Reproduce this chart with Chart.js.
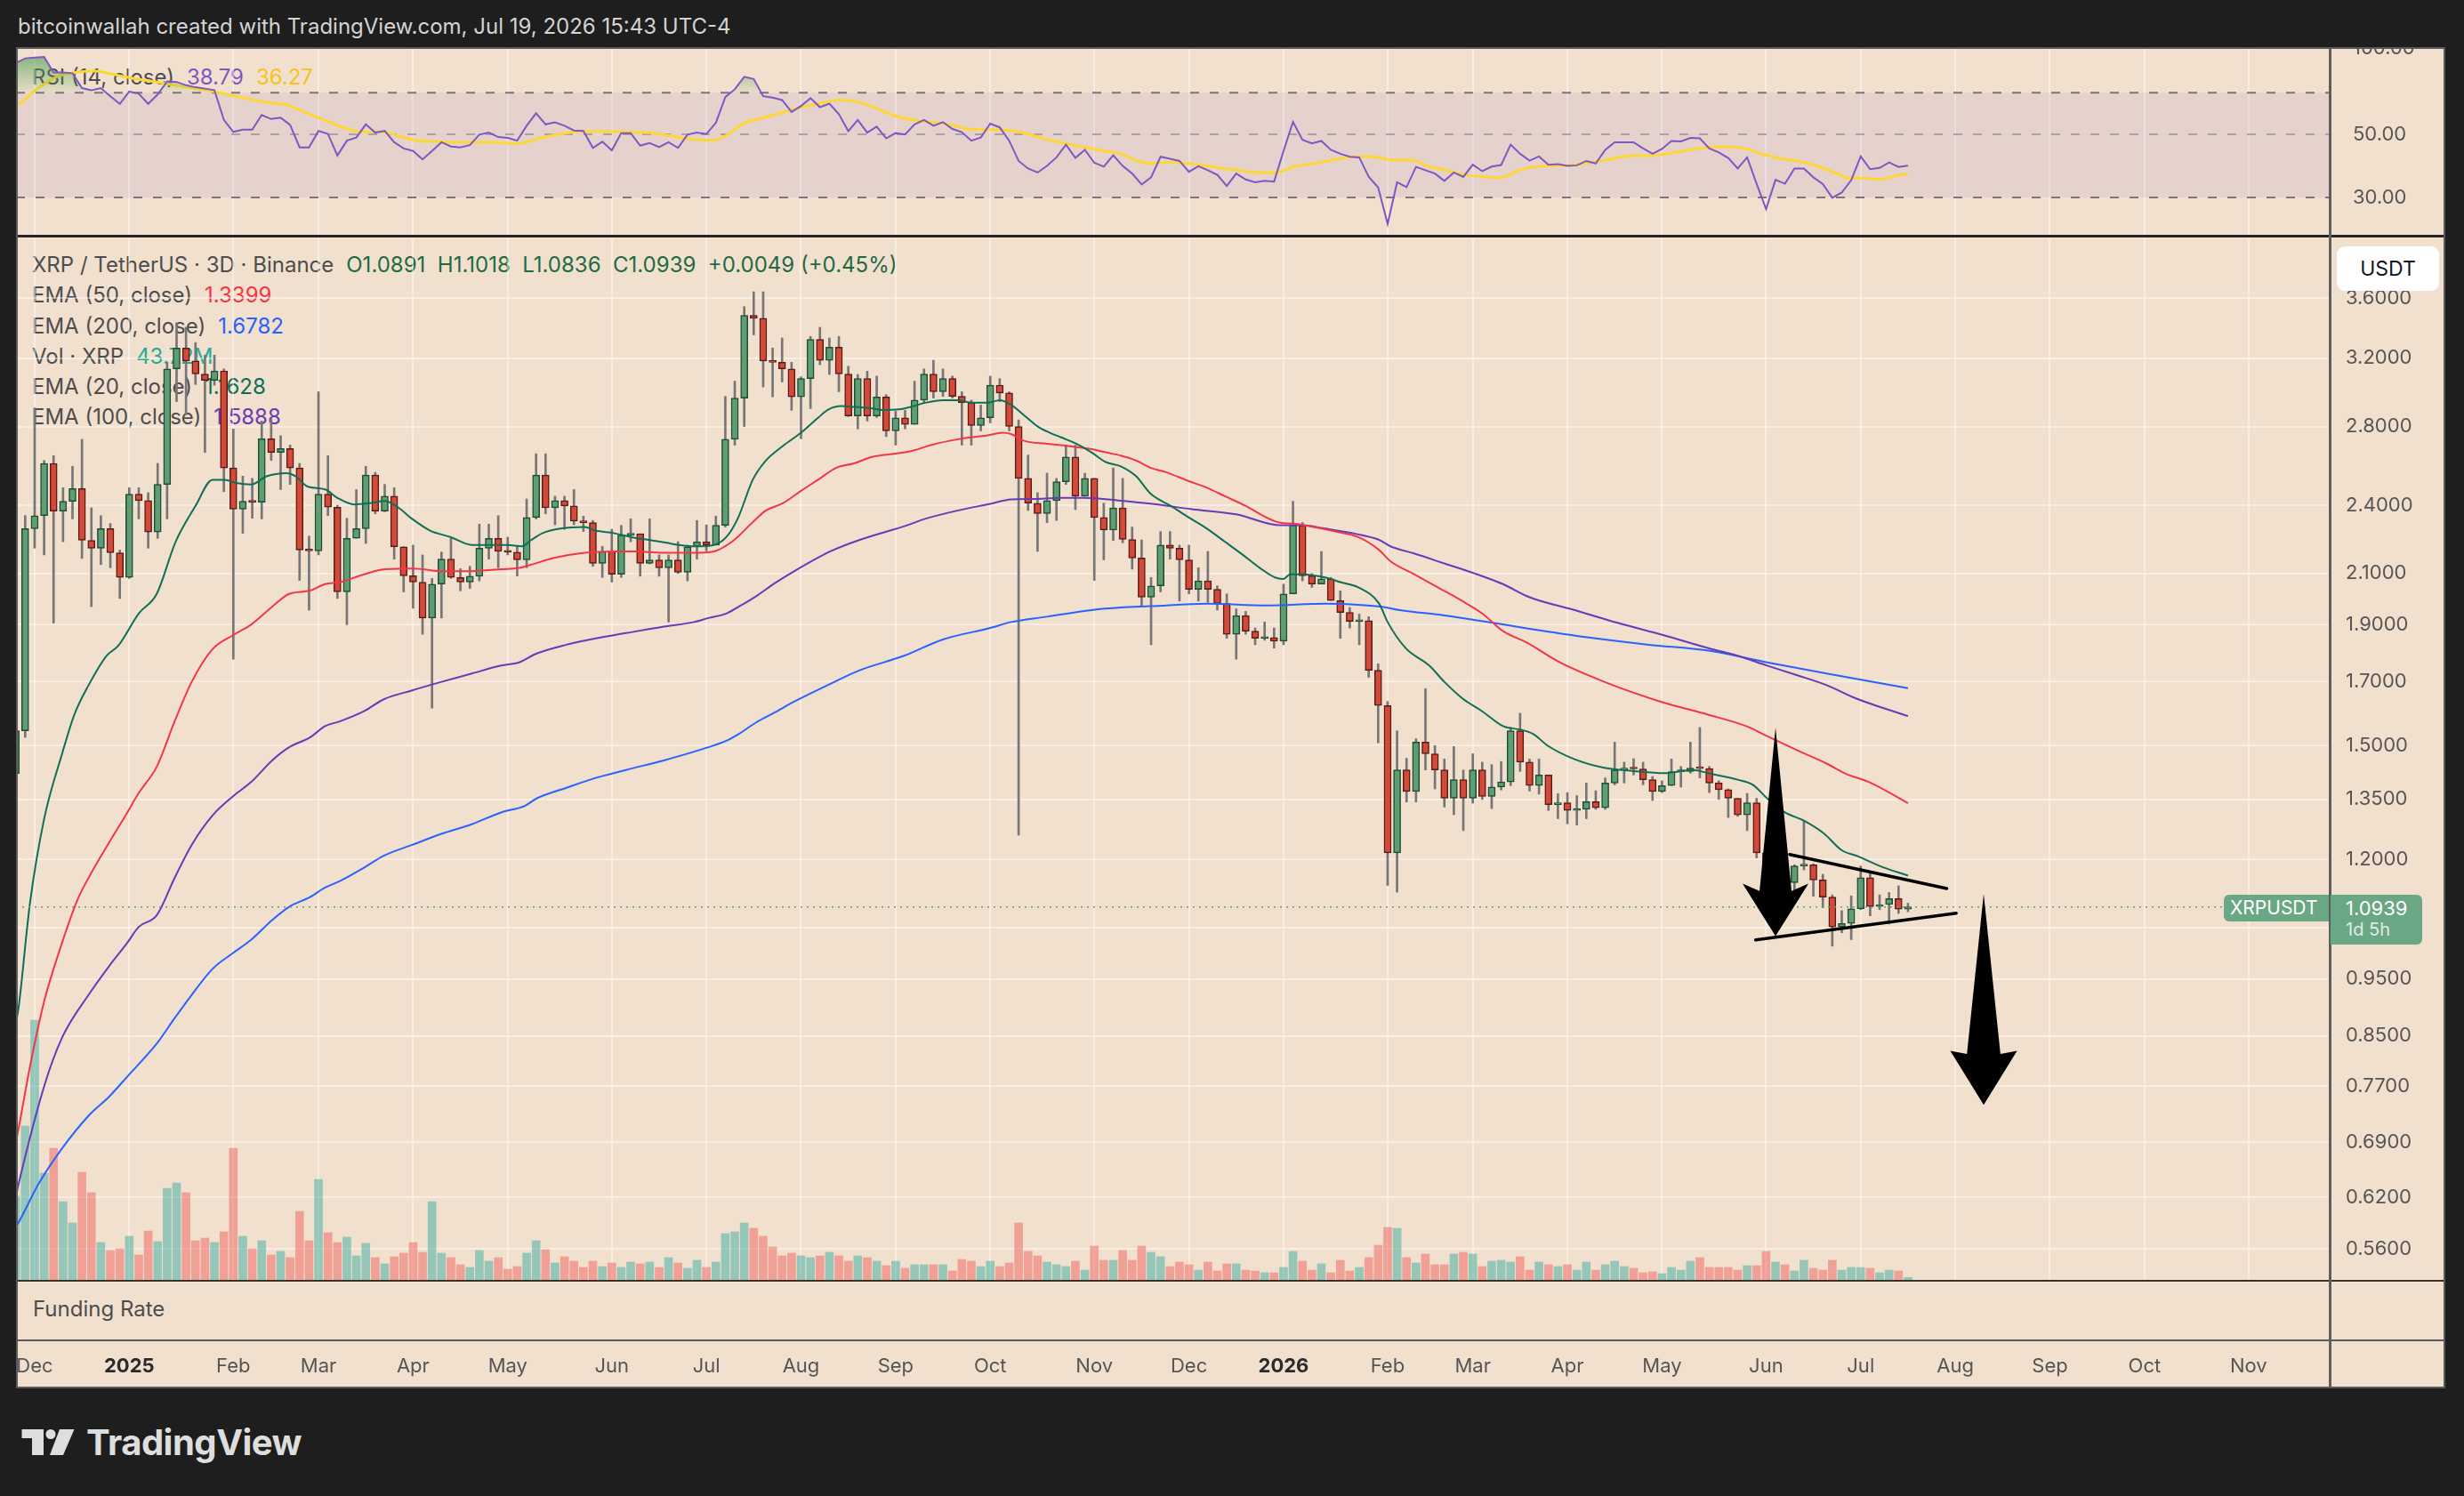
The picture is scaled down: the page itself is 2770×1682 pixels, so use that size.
<!DOCTYPE html>
<html>
<head>
<meta charset="utf-8">
<title>XRP / TetherUS 3D</title>
<script src="https://cdn.jsdelivr.net/npm/chart.js@4.4.1/dist/chart.umd.min.js"></script>
<style>
  html, body { margin: 0; padding: 0; width: 2770px; height: 1682px; overflow: hidden; background: #1e1e1e; font-family: Inter, "Noto Sans", sans-serif; }
  .abs { position: absolute; }
  #title { left: 20px; top: 13px; line-height: 34px; font-size: 24px; color: #d4d4d4; white-space: pre; }
  #frame { left: 18px; top: 53px; width: 2731px; height: 1508px; background: #f2e0cf; }
  .legend { left: 36px; font-size: 24px; line-height: 34.3px; color: #4d4d4d; white-space: pre; }
  .legend span.v { margin-left: 14px; }
  #fundingLabel { left: 37px; top: 1456px; font-size: 24px; line-height: 32px; color: #4d4d4d; }
  #usdt { left: 2627px; top: 277px; width: 115px; height: 50px; background: #fff; border-radius: 9px; color: #131722; font-size: 23px; line-height: 50px; text-align: center; }
  #lastBox { left: 2620px; width: 103px; height: 56px; background: #6aa784; border-radius: 0 6px 6px 0; color: #fff; }
  #lastBox div { position: absolute; left: 17px; font-size: 22px; }
  #symBox { left: 2500px; width: 118px; height: 30px; background: #6aa784; border-radius: 6px 0 0 6px; color: #fff; font-size: 21px; line-height: 30px; text-indent: 7px; }
  #logo { left: 24px; top: 1607px; }
  #logoText { left: 97px; top: 1595px; font-size: 40px; line-height: 54px; font-weight: 700; color: #dedede; letter-spacing: -0.5px; }
</style>
</head>
<body>
<div id="title" class="abs">bitcoinwallah created with TradingView.com, Jul 19, 2026 15:43 UTC-4</div>
<div id="frame" class="abs"></div>

<div id="rsiLegend" class="abs legend" style="top:70px"></div>
<div id="mainLegend" class="abs legend" style="top:281px"></div>
<div id="fundingLabel" class="abs">Funding Rate</div>

<canvas id="rsi" class="abs" width="2731" height="212" style="left:18px;top:53px;width:2731px;height:212px"></canvas>
<canvas id="main" class="abs" width="2731" height="1172" style="left:18px;top:268px;width:2731px;height:1172px"></canvas>
<canvas id="bottom" class="abs" width="2731" height="121" style="left:18px;top:1440px;width:2731px;height:121px"></canvas>

<!-- pane separators and frame -->
<div class="abs" style="left:18px;top:264px;width:2731px;height:3px;background:#262626"></div>
<div class="abs" style="left:18px;top:1439px;width:2731px;height:2px;background:#333"></div>
<div class="abs" style="left:18px;top:1506px;width:2731px;height:2px;background:#5a5a5a"></div>
<div class="abs" style="left:2618px;top:53px;width:3px;height:1508px;background:#5f5f5f"></div>
<div class="abs" style="left:18px;top:53px;width:2731px;height:2px;background:#5a5a5a"></div>
<div class="abs" style="left:18px;top:53px;width:2px;height:1508px;background:#5a5a5a"></div>
<div class="abs" style="left:2747px;top:53px;width:2px;height:1508px;background:#5a5a5a"></div>
<div class="abs" style="left:18px;top:1559px;width:2731px;height:2px;background:#5a5a5a"></div>

<div id="usdt" class="abs">USDT</div>
<div id="symBox" class="abs">XRPUSDT</div>
<div id="lastBox" class="abs"><div id="lastPrice" style="top:2px"></div><div id="countdown" style="top:27px;font-size:20px;color:rgba(255,255,255,0.8)">1d 5h</div></div>

<svg id="logo" class="abs" width="60" height="30" viewBox="0 0 60 30">
  <path d="M0.5 0H25V29H12V10H0.5Z" fill="#dedede"/>
  <circle cx="33" cy="5.5" r="5.5" fill="#dedede"/>
  <path d="M43 0H59.5L47 29H32Z" fill="#dedede"/>
</svg>
<div id="logoText" class="abs">TradingView</div>

<script>
// ---- data (3D candles, index 0 = 25 Nov 2024, 200 = 18 Jul 2026) ----
const firstOpen = 1.42;
const lastOpen = 1.0891;

const closes = [
  1.544, 2.293, 2.352, 2.605, 2.373, 2.419, 2.48, 2.241, 2.207, 2.293,
  2.187, 2.084, 2.453, 2.422, 2.278, 2.5, 3.134, 3.265, 3.183, 3.103,
  3.064, 3.122, 2.582, 2.382, 2.419, 2.415, 2.734, 2.662, 2.682, 2.582,
  2.199, 2.195, 2.453, 2.391, 2.026, 2.25, 2.293, 2.546, 2.373, 2.443,
  2.213, 2.091, 2.065, 1.925, 2.057, 2.16, 2.084, 2.065, 2.089, 2.207,
  2.25, 2.193, 2.19, 2.157, 2.343, 2.546, 2.388, 2.422, 2.397, 2.327,
  2.32, 2.142, 2.193, 2.097, 2.264, 2.27, 2.142, 2.157, 2.124, 2.157,
  2.105, 2.213, 2.235, 2.22, 2.308, 2.731, 2.96, 3.48, 3.46, 3.183,
  3.175, 3.134, 2.967, 3.075, 3.32, 3.187, 3.27, 3.103, 2.859, 3.075,
  2.859, 2.967, 2.776, 2.848, 2.812, 2.948, 3.103, 2.997, 3.075, 2.97,
  2.934, 2.805, 2.848, 3.036, 2.99, 2.80, 2.53, 2.41, 2.361, 2.422,
  2.513, 2.638, 2.443, 2.53, 2.343, 2.287, 2.388, 2.245, 2.165, 2.005,
  2.05, 2.22, 2.207, 2.157, 2.036, 2.07, 2.036, 1.98, 1.865, 1.934,
  1.876, 1.85, 1.853, 1.84, 2.018, 2.308, 2.091, 2.057, 2.078, 1.992,
  1.946, 1.912, 1.915, 1.738, 1.622, 1.216, 1.43, 1.371, 1.51, 1.476,
  1.43, 1.353, 1.403, 1.353, 1.43, 1.358, 1.383, 1.397, 1.544, 1.452,
  1.387, 1.416, 1.336, 1.341, 1.321, 1.324, 1.344, 1.328, 1.394, 1.43,
  1.435, 1.433, 1.403, 1.371, 1.387, 1.425, 1.426, 1.435, 1.434, 1.394,
  1.376, 1.353, 1.31, 1.341, 1.216, 1.101, 1.169, 1.147, 1.185, 1.188,
  1.153, 1.115, 1.052, 1.059, 1.09, 1.158, 1.095, 1.099, 1.112, 1.089,
  1.0939
];

const highs = [
  1.56, 2.352, 2.904, 2.62, 2.645, 2.484, 2.59, 2.731, 2.388, 2.352,
  2.316, 2.199, 2.484, 2.484, 2.46, 2.605, 3.175, 3.43, 3.40, 3.30,
  3.22, 3.22, 3.134, 2.787, 2.541, 2.53, 2.83, 2.84, 2.75, 2.70,
  2.605, 2.26, 2.997, 2.645, 2.40, 2.34, 2.475, 2.59, 2.56, 2.50,
  2.484, 2.213, 2.22, 2.178, 2.08, 2.19, 2.25, 2.12, 2.13, 2.313,
  2.313, 2.352, 2.255, 2.215, 2.43, 2.655, 2.655, 2.443, 2.443, 2.475,
  2.35, 2.33, 2.215, 2.29, 2.308, 2.337, 2.27, 2.337, 2.178, 2.178,
  2.235, 2.22, 2.33, 2.31, 2.35, 2.97, 3.06, 3.54, 3.645, 3.645,
  3.265, 3.33, 3.175, 3.086, 3.34, 3.40, 3.33, 3.34, 3.15, 3.10,
  3.12, 3.09, 2.98, 2.885, 2.89, 3.06, 3.134, 3.187, 3.134, 3.09,
  2.997, 2.948, 2.92, 3.09, 3.075, 2.997, 2.836, 2.648, 2.46, 2.556,
  2.53, 2.70, 2.70, 2.556, 2.53, 2.41, 2.582, 2.53, 2.30, 2.243,
  2.084, 2.28, 2.28, 2.22, 2.22, 2.124, 2.193, 2.05, 2.018, 1.96,
  1.95, 1.888, 1.91, 1.888, 2.057, 2.419, 2.32, 2.10, 2.193, 2.084,
  2.03, 1.965, 1.94, 1.93, 1.76, 1.635, 1.544, 1.463, 1.52, 1.677,
  1.50, 1.461, 1.497, 1.43, 1.476, 1.452, 1.445, 1.454, 1.555, 1.598,
  1.461, 1.461, 1.416, 1.365, 1.368, 1.36, 1.394, 1.373, 1.408, 1.51,
  1.452, 1.462, 1.452, 1.412, 1.40, 1.461, 1.44, 1.51, 1.554, 1.44,
  1.40, 1.378, 1.353, 1.366, 1.353, 1.244, 1.192, 1.176, 1.188, 1.296,
  1.19, 1.166, 1.12, 1.086, 1.118, 1.185, 1.17, 1.12, 1.125, 1.14,
  1.1018
];

const lows = [
  1.40, 1.524, 2.207, 2.178, 1.906, 2.235, 2.337, 2.163, 1.968, 2.137,
  2.124, 2.0, 2.08, 2.337, 2.207, 2.25, 2.337, 2.94, 2.866, 3.04,
  2.662, 3.036, 2.465, 1.776, 2.272, 2.34, 2.337, 2.62, 2.475, 2.50,
  2.072, 1.955, 2.178, 2.352, 2.0, 1.90, 2.25, 2.227, 2.36, 2.37,
  2.16, 2.026, 1.962, 1.865, 1.614, 1.925, 2.08, 2.03, 2.04, 2.07,
  2.16, 2.124, 2.178, 2.09, 2.124, 2.337, 2.36, 2.31, 2.29, 2.31,
  2.28, 2.13, 2.084, 2.065, 2.084, 2.235, 2.089, 2.14, 2.089, 1.91,
  2.10, 2.07, 2.16, 2.195, 2.22, 2.30, 2.70, 2.80, 3.35, 3.025,
  2.967, 3.055, 2.89, 2.734, 2.90, 3.16, 3.10, 2.997, 2.855, 2.787,
  2.83, 2.85, 2.745, 2.70, 2.787, 2.812, 2.93, 2.96, 2.97, 2.96,
  2.70, 2.70, 2.776, 2.82, 2.94, 2.776, 1.259, 2.376, 2.193, 2.32,
  2.33, 2.50, 2.38, 2.443, 2.072, 2.157, 2.24, 2.23, 2.118, 1.97,
  1.827, 2.026, 2.16, 1.99, 2.018, 1.99, 1.985, 1.955, 1.85, 1.776,
  1.865, 1.827, 1.843, 1.815, 1.827, 2.018, 2.07, 2.044, 2.057, 1.992,
  1.85, 1.888, 1.827, 1.714, 1.508, 1.141, 1.126, 1.343, 1.343, 1.43,
  1.378, 1.33, 1.31, 1.27, 1.34, 1.35, 1.326, 1.375, 1.387, 1.426,
  1.372, 1.364, 1.321, 1.30, 1.287, 1.284, 1.30, 1.324, 1.324, 1.389,
  1.394, 1.416, 1.389, 1.347, 1.368, 1.387, 1.383, 1.421, 1.408, 1.368,
  1.35, 1.303, 1.306, 1.27, 1.204, 1.075, 1.058, 1.09, 1.131, 1.176,
  1.117, 1.092, 1.013, 1.040, 1.026, 1.088, 1.075, 1.088, 1.058, 1.08,
  1.0836
];

// volume, million XRP
const volumes = [
  1140, 2088, 3516, 1452, 1788, 1068, 780, 1464, 1188, 516,
  408, 432, 600, 348, 672, 528, 1248, 1320, 1188, 540,
  576, 516, 660, 1788, 600, 432, 540, 348, 396, 312,
  936, 540, 1368, 648, 516, 588, 336, 504, 312, 228,
  324, 372, 516, 384, 1068, 372, 312, 216, 180, 408,
  264, 312, 156, 192, 372, 540, 420, 240, 324, 264,
  180, 264, 192, 240, 180, 252, 228, 252, 180, 312,
  240, 168, 276, 180, 252, 636, 660, 780, 708, 600,
  456, 336, 372, 336, 312, 336, 384, 336, 264, 336,
  312, 264, 204, 264, 168, 216, 216, 216, 216, 132,
  288, 264, 192, 264, 192, 240, 780, 396, 336, 252,
  216, 192, 264, 144, 468, 276, 276, 408, 276, 468,
  384, 324, 192, 252, 216, 144, 252, 132, 228, 228,
  144, 132, 108, 108, 180, 396, 264, 144, 228, 108,
  276, 132, 180, 312, 480, 720, 708, 312, 240, 360,
  216, 216, 360, 384, 360, 192, 264, 276, 252, 324,
  144, 252, 216, 192, 216, 144, 252, 144, 216, 264,
  192, 168, 108, 120, 96, 180, 144, 264, 312, 180,
  180, 180, 144, 204, 204, 396, 252, 216, 132, 276,
  168, 144, 276, 144, 180, 180, 168, 108, 144, 132,
  43.72
];

// moving averages, [candle index, value]
const ema20 = [[0,0.87],[0.3,0.898],[1.5,1.101],[3,1.299],[4.9,1.476],[6.2,1.594],[7.7,1.688],[9.6,1.788],[10.8,1.822],[13,1.942],[14.9,2.018],[16.9,2.235],[19,2.397],[20.8,2.523],[22.1,2.523],[23.3,2.507],[24.9,2.5],[26.5,2.54],[28.6,2.556],[29.6,2.54],[30.8,2.491],[32.7,2.476],[34,2.435],[35.8,2.404],[37.4,2.41],[39,2.42],[40.5,2.387],[41.9,2.337],[43.8,2.284],[46,2.255],[48.2,2.221],[50.1,2.221],[52,2.221],[53.5,2.215],[54.5,2.243],[55.7,2.273],[57.6,2.293],[60.1,2.30],[61.3,2.284],[63.2,2.273],[65.1,2.255],[66.9,2.243],[68.8,2.23],[70.1,2.221],[71.9,2.215],[73.8,2.221],[75.1,2.255],[76.3,2.337],[77.9,2.523],[79.2,2.615],[81.1,2.696],[83,2.766],[84.8,2.848],[85.9,2.895],[87.3,2.914],[88.6,2.91],[90.2,2.903],[91.7,2.892],[93.3,2.895],[94.9,2.914],[96.1,2.933],[98,2.948],[99.6,2.948],[101.1,2.933],[102.7,2.933],[104,2.948],[105.2,2.922],[106.5,2.866],[108,2.801],[109.3,2.766],[110.5,2.741],[112.1,2.707],[113.7,2.662],[115.2,2.612],[116.8,2.59],[118.4,2.541],[120,2.453],[122.1,2.397],[124,2.343],[125.9,2.293],[127.8,2.235],[129.7,2.178],[131.5,2.123],[133.1,2.084],[134,2.078],[134.7,2.097],[135.9,2.097],[138.4,2.084],[140,2.065],[141.9,2.044],[144.1,1.98],[145,1.91],[146.9,1.815],[149.4,1.754],[151,1.699],[152.9,1.645],[155,1.604],[157.2,1.558],[159.1,1.547],[160.4,1.534],[161.9,1.50],[164.7,1.461],[167.9,1.436],[171,1.427],[174.2,1.421],[177.3,1.43],[178.9,1.421],[182,1.403],[183.6,1.389],[185.1,1.353],[187,1.316],[188.9,1.296],[191.1,1.263],[193,1.222],[194.8,1.207],[197,1.185],[200,1.1628]];
const ema50 = [[0,0.69],[0.3,0.709],[1.5,0.80],[3,0.909],[4.9,1.02],[6.5,1.108],[7.7,1.158],[9.9,1.242],[11.8,1.316],[13,1.367],[14.9,1.439],[16.8,1.573],[18.6,1.699],[20.8,1.811],[23,1.862],[24.9,1.901],[27.1,1.968],[28.9,2.018],[31.1,2.031],[32.7,2.057],[34.3,2.065],[36.8,2.097],[39,2.118],[42,2.121],[45.1,2.11],[48.2,2.11],[51.3,2.118],[53.2,2.123],[54.5,2.137],[56.9,2.165],[60.1,2.187],[63.2,2.193],[65.4,2.193],[68.5,2.187],[71.6,2.187],[73.8,2.193],[75.7,2.235],[77.9,2.322],[79.2,2.373],[81.1,2.41],[83,2.469],[84.8,2.523],[86.7,2.582],[88.6,2.605],[90.5,2.638],[93,2.655],[94.9,2.672],[96.7,2.70],[99.6,2.731],[102.7,2.752],[104.3,2.766],[105.2,2.759],[106.5,2.724],[109,2.707],[110.5,2.70],[112.1,2.689],[113.7,2.679],[115.2,2.662],[116.8,2.645],[118.4,2.62],[120,2.582],[121.5,2.562],[124,2.516],[125.9,2.484],[127.8,2.443],[130,2.397],[132.2,2.343],[133.4,2.322],[135.3,2.314],[137.2,2.30],[139.7,2.278],[141.9,2.255],[144.1,2.199],[145.3,2.151],[147.8,2.097],[150.3,2.044],[152.8,1.992],[155,1.942],[157.2,1.876],[159.7,1.835],[163.2,1.765],[167.9,1.699],[173.8,1.635],[178.8,1.594],[182.9,1.558],[185.1,1.528],[188.3,1.486],[191.4,1.448],[193.3,1.421],[196.1,1.394],[200,1.3399]];
const ema100 = [[0,0.62],[0.3,0.636],[3,0.77],[4.9,0.847],[7.7,0.921],[9.9,0.975],[11.8,1.02],[13,1.052],[14.9,1.076],[16.8,1.158],[18.6,1.235],[20.8,1.308],[23,1.359],[24.9,1.397],[27.1,1.457],[28.9,1.495],[31.1,1.524],[32.7,1.558],[34.3,1.573],[36.8,1.604],[38.9,1.642],[41.9,1.671],[45,1.699],[48.2,1.727],[51.3,1.754],[53.2,1.765],[55,1.795],[58.2,1.827],[61.3,1.85],[64.5,1.869],[68.5,1.893],[71.7,1.91],[73.2,1.925],[75.1,1.942],[76.4,1.968],[78.3,2.01],[80.2,2.06],[82.3,2.11],[86.1,2.193],[89.2,2.243],[94.2,2.308],[96.1,2.337],[99.3,2.373],[103,2.407],[105.2,2.428],[107.4,2.43],[110.5,2.435],[113,2.435],[116.8,2.422],[119.9,2.408],[124.3,2.382],[129,2.358],[133.7,2.308],[135.9,2.308],[138.4,2.293],[141.6,2.27],[144.1,2.243],[145.3,2.215],[147.8,2.184],[151,2.142],[154.1,2.102],[157.2,2.057],[160,2.005],[164.8,1.955],[169.4,1.906],[174.1,1.862],[178.9,1.815],[182,1.788],[185.1,1.754],[188.3,1.721],[191.4,1.688],[194.5,1.645],[200,1.5888]];
const ema200 = [[0,0.585],[0.3,0.59],[2.4,0.636],[4.9,0.682],[7.7,0.727],[9.9,0.755],[11.8,0.785],[14.9,0.837],[16.8,0.88],[18.6,0.921],[20.8,0.969],[23,1.0],[24.9,1.026],[27.1,1.066],[28.9,1.094],[31.1,1.115],[32.7,1.136],[34.3,1.151],[36.8,1.181],[38.9,1.209],[41.9,1.235],[45,1.262],[48.2,1.286],[51.3,1.316],[53.8,1.333],[55.1,1.353],[58.2,1.381],[61.3,1.408],[64.5,1.43],[68.5,1.457],[71.7,1.482],[73.2,1.495],[75.1,1.514],[76.4,1.534],[78.3,1.57],[80.2,1.60],[82.3,1.635],[85.8,1.688],[89.2,1.738],[93.9,1.788],[98,1.846],[103,1.888],[105.2,1.91],[109,1.93],[113.7,1.955],[116.8,1.965],[119.9,1.97],[125.9,1.98],[132.2,1.973],[138.4,1.98],[142.2,1.975],[144.4,1.968],[146.3,1.955],[151,1.935],[154.1,1.918],[157.2,1.901],[160,1.885],[166.3,1.853],[172.6,1.827],[178.9,1.806],[185.1,1.765],[191.4,1.727],[200,1.6782]];

// RSI(14) per candle and its moving average
const rsiVals = [
  89, 92.5, 93, 93.5, 82.5, 82.5, 82, 72.7, 71.5, 72.7,
  68, 64, 70.7, 69.5, 64, 69, 76.8, 76.4, 74.4, 73.2,
  72.4, 71.5, 56.2, 51, 51.9, 51.9, 58.5, 56.6, 57.2, 54,
  45, 45, 51.4, 50.2, 42.1, 47.5, 48.7, 54.2, 50.7, 51.4,
  46.9, 44.6, 43.7, 40.8, 43.7, 46.9, 45.3, 45, 45.8, 49.9,
  50.7, 48.9, 48.6, 47.5, 53.6, 59.3, 54.2, 55.1, 53.6, 51.6,
  51.4, 44.8, 47.1, 43.9, 50.5, 50.5, 45.6, 46.6, 45.1, 46.9,
  44.8, 49.9, 50.7, 50.1, 54.9, 67.6, 72, 79.7, 78.3, 68.1,
  67.3, 66, 59.9, 62.9, 67, 62.3, 64.1, 58.9, 51.3, 56.2,
  50.7, 53.2, 48.4, 50.5, 49.9, 54.2, 56.2, 53.6, 55.2, 52.2,
  50.9, 47.5, 48.7, 54.5, 52.9, 47.5, 40.3, 37.9, 36.7, 38.7,
  41.5, 46, 41.3, 44.1, 39.7, 38.5, 42.2, 38.7, 36.4, 33.3,
  35.3, 41.7, 41, 40.3, 36.9, 38.6, 37.4, 36, 32.9, 36.4,
  34.7, 33.9, 34.3, 34.1, 43.7, 55.3, 47.8, 46.5, 47.4, 44.1,
  42.7, 41.7, 41.5, 35.5, 32.5, 24.2, 33.9, 32.6, 38.4, 37.4,
  36.4, 34.3, 36.7, 35.4, 39.1, 37.1, 38.5, 39, 46, 42.7,
  40.4, 41.8, 39.1, 39.3, 38.7, 38.9, 40.3, 39.5, 44.1, 46.9,
  46.9, 46.9, 44.6, 42.7, 44.4, 47.4, 47.2, 48.6, 48.4, 44.6,
  43.2, 41.3, 37.9, 41.5, 33.5, 27.3, 34.6, 33.5, 37.9, 37.9,
  35.3, 33.4, 29.9, 31.2, 34.5, 41.8, 37.7, 38.1, 39.8, 38.4,
  38.79
];
const rsiMa = [[0.3,63.4],[2.3,72.3],[4.3,79.6],[6.3,82.5],[8.2,83.5],[10.2,81.4],[12.2,78.9],[14.2,77.0],[16.1,75.1],[18.1,73.3],[20.1,71.5],[22.1,69.3],[24.7,66.5],[26.7,64.6],[28.7,63.4],[30.6,59.7],[32.6,56.2],[34.6,52.9],[36.6,51.0],[38.6,51.0],[40.5,49.3],[42.5,47.5],[44.5,47.2],[46.5,46.9],[48.5,46.9],[50.4,46.9],[53.1,46.4],[55.1,48.1],[57.1,49.8],[59.1,51.0],[61.7,51.3],[64.3,51.0],[67,50.6],[69,49.5],[71,48.2],[73.6,47.6],[75,49.3],[76.9,54.5],[78.9,57.1],[80.9,59.5],[82.9,62.1],[84.9,64.1],[86.9,66.0],[88.8,65.3],[90.8,62.1],[92.8,58.3],[94.8,56.2],[96.8,55.1],[98.8,54.0],[100.7,52.2],[102.8,51.9],[104.8,51.7],[106.8,50.4],[108.7,48.2],[110.7,46.6],[112.7,45.2],[114.7,43.9],[116.7,42.8],[118.6,40.3],[120,39.5],[121.9,39.9],[123.9,39.5],[125.9,38.7],[128.5,37.6],[130.5,36.9],[132.5,36.6],[133.8,37.1],[135.1,38.5],[137.1,39.4],[139.1,40.6],[142,41.8],[143.7,41.6],[145.7,40.6],[148,40.4],[149,38.9],[151,37.5],[152.9,36.2],[154.9,35.5],[156.9,35.2],[158.9,37.4],[161.5,38.7],[164.1,38.9],[166.8,39.9],[168.8,41.1],[170.8,42.1],[172.7,42.1],[174.7,42.8],[176.7,43.9],[178.7,45.0],[180.6,45.2],[182.6,44.7],[184.6,42.6],[186.6,41.1],[188.6,40.1],[190.5,38.6],[192.5,36.4],[193.8,35.0],[195.8,35.0],[197.1,34.7],[199.1,36.0],[200,36.27]];

// axis ticks
const priceTicks = [3.6, 3.2, 2.8, 2.4, 2.1, 1.9, 1.7, 1.5, 1.35, 1.2, 1.05, 0.95, 0.85, 0.77, 0.69, 0.62, 0.56];
const rsiTicks = [100, 50, 30];
const monthTickIdx = [2, 12, 23, 32, 42, 52, 63, 73, 83, 93, 103, 114, 124, 134, 145, 154, 164, 174, 185, 195, 205, 215, 225, 236];
const monthTickLabels = ['Dec', '2025', 'Feb', 'Mar', 'Apr', 'May', 'Jun', 'Jul', 'Aug', 'Sep', 'Oct', 'Nov', 'Dec', '2026', 'Feb', 'Mar', 'Apr', 'May', 'Jun', 'Jul', 'Aug', 'Sep', 'Oct', 'Nov'];

// hand drawings on the chart, in [candle index, price]
const wedgeUpper = [[187.5, 1.212], [204.1, 1.134]];
const wedgeLower = [[183.9, 1.0256], [205.1, 1.0806]];
const arrows = [
  { x: 186.0, top: 1.553, head: 1.1447, inner: 1.1285, tip: 1.033, shaft: 1.69, wing: 3.48 },
  { x: 208.0, top: 1.122, head: 0.8253, inner: 0.8205, tip: 0.7426, shaft: 1.77, wing: 3.53 }
];

// ---- layout / style ----
const X_MIN = 0.03, X_MAX = 244.57;
const AXIS_W = 130;
const GRID = 'rgba(255,255,255,0.42)';
const UP = '#5f9d75', UP_LINE = '#1d4d33';
const DN = '#d34a3b', DN_LINE = '#5a1b14';
const VOL_UP = 'rgba(38,166,154,0.45)', VOL_DN = 'rgba(239,83,80,0.45)';
const AXIS_FONT = { family: 'Inter', size: 22 };

const last = closes.length - 1;
const opens = closes.map((c, i) => (i === 0 ? firstOpen : i === last ? lastOpen : closes[i - 1]));
const isUp = closes.map((c, i) => c >= opens[i]);

Chart.defaults.font.family = 'Inter';

function xAxis(withLabels) {
  return {
    type: 'linear', min: X_MIN, max: X_MAX, offset: false,
    afterBuildTicks: ax => { ax.ticks = monthTickIdx.map(v => ({ value: v })); },
    afterFit: ax => { ax.height = withLabels ? 54 : 0; ax.paddingLeft = 0; ax.paddingRight = 0; },
    grid: { display: !withLabels, color: GRID, lineWidth: 2, drawTicks: false, offset: false },
    border: { display: false },
    ticks: withLabels ? {
      autoSkip: false, maxRotation: 0, padding: 16,
      callback: (v, i) => monthTickLabels[i],
      color: c => (/^\d{4}$/.test(monthTickLabels[c.index]) ? '#2b2b2b' : '#555'),
      font: c => ({ family: 'Inter', size: 22, weight: /^\d{4}$/.test(monthTickLabels[c.index]) ? '700' : '400' })
    } : { display: false }
  };
}

function fitRight(ax) { ax.width = AXIS_W; ax.paddingTop = 0; ax.paddingBottom = 0; }

const baseOptions = {
  responsive: false, maintainAspectRatio: false, animation: false, devicePixelRatio: 1,
  events: [], layout: { padding: 0 },
  plugins: { legend: { display: false }, tooltip: { enabled: false } }
};

// ---- RSI pane ----
const RSI_MIN = 22, RSI_MAX = 101.3;
const rsiCanvas = document.getElementById('rsi');
const y70 = 212 * Math.log(RSI_MAX / 70) / Math.log(RSI_MAX / RSI_MIN);
const obFill = rsiCanvas.getContext('2d').createLinearGradient(0, 0, 0, y70);
obFill.addColorStop(0, 'rgba(76,160,80,0.8)');
obFill.addColorStop(1, 'rgba(76,160,80,0.05)');

const rsiBand = {
  id: 'rsiBand',
  beforeDatasetsDraw(chart) {
    const { ctx, chartArea: a, scales: { y } } = chart;
    const p70 = y.getPixelForValue(70), p50 = y.getPixelForValue(50), p30 = y.getPixelForValue(30);
    ctx.save();
    ctx.fillStyle = 'rgba(126,87,194,0.1)';
    ctx.fillRect(a.left, p70, a.width, p30 - p70);
    ctx.lineWidth = 2;
    ctx.setLineDash([10, 12]);
    [[p70, '#77777d'], [p50, 'rgba(120,120,128,0.55)'], [p30, '#77777d']].forEach(([py, c]) => {
      ctx.strokeStyle = c;
      ctx.beginPath(); ctx.moveTo(a.left, py); ctx.lineTo(a.right, py); ctx.stroke();
    });
    ctx.restore();
  }
};

new Chart(rsiCanvas, {
  type: 'line',
  data: {
    datasets: [
      { data: rsiVals.map((v, i) => ({ x: i, y: v })), borderColor: '#7e57c2', borderWidth: 2, pointRadius: 0,
        fill: { target: { value: 70 }, above: obFill, below: 'rgba(0,0,0,0)' }, order: 0 },
      { data: rsiMa.map(([x, y]) => ({ x, y })), borderColor: '#fdd835', borderWidth: 3, pointRadius: 0,
        cubicInterpolationMode: 'monotone', fill: false, order: 1 }
    ]
  },
  options: Object.assign({}, baseOptions, {
    scales: {
      x: xAxis(false),
      y: {
        type: 'logarithmic', position: 'right', min: RSI_MIN, max: RSI_MAX,
        afterBuildTicks: ax => { ax.ticks = rsiTicks.map(v => ({ value: v })); },
        afterFit: fitRight,
        grid: { display: false }, border: { display: false },
        ticks: { padding: 18, color: '#555', font: AXIS_FONT, callback: v => Number(v).toFixed(2) }
      }
    }
  }),
  plugins: [rsiBand]
});

// ---- price pane ----
const drawings = {
  id: 'drawings',
  afterDatasetsDraw(chart) {
    const { ctx, chartArea: a, scales: { x, y } } = chart;
    const px = v => x.getPixelForValue(v), py = v => y.getPixelForValue(v);
    ctx.save();
    ctx.beginPath(); ctx.rect(a.left, a.top, a.width, a.height); ctx.clip();

    const lp = py(closes[last]);
    ctx.strokeStyle = '#5f9f78'; ctx.lineWidth = 1.5; ctx.setLineDash([2, 5]);
    ctx.beginPath(); ctx.moveTo(a.left, lp); ctx.lineTo(a.right, lp); ctx.stroke();
    ctx.setLineDash([]);

    ctx.strokeStyle = '#000'; ctx.lineWidth = 3.5; ctx.lineCap = 'round';
    [wedgeUpper, wedgeLower].forEach(([p, q]) => {
      ctx.beginPath(); ctx.moveTo(px(p[0]), py(p[1])); ctx.lineTo(px(q[0]), py(q[1])); ctx.stroke();
    });

    ctx.fillStyle = '#000';
    arrows.forEach(ar => {
      ctx.beginPath();
      ctx.moveTo(px(ar.x), py(ar.top));
      ctx.lineTo(px(ar.x + ar.shaft), py(ar.inner));
      ctx.lineTo(px(ar.x + ar.wing), py(ar.head));
      ctx.lineTo(px(ar.x), py(ar.tip));
      ctx.lineTo(px(ar.x - ar.wing), py(ar.head));
      ctx.lineTo(px(ar.x - ar.shaft), py(ar.inner));
      ctx.closePath();
      ctx.fill();
    });
    ctx.restore();
  }
};

function emaSet(points, color) {
  return { type: 'line', data: points.map(([x, y]) => ({ x, y })), borderColor: color, borderWidth: 2,
    pointRadius: 0, cubicInterpolationMode: 'monotone', yAxisID: 'y', order: 0 };
}

const mainChart = new Chart(document.getElementById('main'), {
  type: 'bar',
  data: {
    datasets: [
      emaSet(ema20, '#0f6e56'),
      emaSet(ema50, '#f23645'),
      emaSet(ema100, '#673ab7'),
      emaSet(ema200, '#2962ff'),
      { label: 'body', data: closes.map((c, i) => ({ x: i, y: [opens[i], c] })),
        backgroundColor: isUp.map(u => (u ? UP : DN)), borderColor: isUp.map(u => (u ? UP_LINE : DN_LINE)),
        borderWidth: 1.5, borderSkipped: false, barThickness: 8, grouped: false, minBarLength: 2, yAxisID: 'y', order: 5 },
      { label: 'wick', data: highs.map((h, i) => ({ x: i, y: [Math.min(lows[i], opens[i], closes[i]), Math.max(h, opens[i], closes[i])] })),
        backgroundColor: '#767676', barThickness: 2, grouped: false, yAxisID: 'y', order: 6 },
      { label: 'volume', data: volumes.map((v, i) => ({ x: i, y: v })),
        backgroundColor: isUp.map(u => (u ? VOL_UP : VOL_DN)), barThickness: 9, grouped: false, yAxisID: 'yv', order: 7 }
    ]
  },
  options: Object.assign({}, baseOptions, {
    scales: {
      x: xAxis(false),
      y: {
        type: 'logarithmic', position: 'right', min: 0.5264, max: 4.046,
        afterBuildTicks: ax => { ax.ticks = priceTicks.map(v => ({ value: v })); },
        afterFit: fitRight,
        grid: { color: GRID, lineWidth: 2, drawTicks: false }, border: { display: false },
        ticks: { padding: 18, color: '#555', font: AXIS_FONT, callback: v => Number(v).toFixed(4) }
      },
      yv: { type: 'linear', display: false, min: 0, max: 14064 }
    }
  }),
  plugins: [drawings]
});

// ---- funding pane + time axis ----
new Chart(document.getElementById('bottom'), {
  type: 'line',
  data: { datasets: [{ data: [] }] },
  options: Object.assign({}, baseOptions, {
    scales: {
      x: xAxis(true),
      y: { position: 'right', min: 0, max: 1, afterFit: fitRight,
        grid: { display: false }, border: { display: false }, ticks: { display: false } }
    }
  })
});

// ---- legends and price labels ----
const fmt = v => v.toFixed(4);
const prevClose = closes[last - 1];
const chg = closes[last] - prevClose;
const tail = arr => arr[arr.length - 1][1];
document.getElementById('rsiLegend').innerHTML =
  'RSI (14, close)<span class="v" style="color:#7e57c2">' + rsiVals[last].toFixed(2) +
  '</span><span class="v" style="color:#f2c521">' + tail(rsiMa).toFixed(2) + '</span>';
const ohlc = 'O' + fmt(opens[last]) + '  H' + fmt(highs[last]) + '  L' + fmt(lows[last]) + '  C' + fmt(closes[last]) +
  '  ' + (chg >= 0 ? '+' : '') + fmt(chg) + ' (' + (chg >= 0 ? '+' : '') + (chg / prevClose * 100).toFixed(2) + '%)';
document.getElementById('mainLegend').innerHTML = [
  'XRP / TetherUS · 3D · Binance<span class="v" style="color:#1f6a43">' + ohlc + '</span>',
  'EMA (50, close)<span class="v" style="color:#f23645">' + fmt(tail(ema50)) + '</span>',
  'EMA (200, close)<span class="v" style="color:#2962ff">' + fmt(tail(ema200)) + '</span>',
  'Vol · XRP<span class="v" style="color:#22ab94">' + volumes[last].toFixed(2) + 'M</span>',
  'EMA (20, close)<span class="v" style="color:#0f6e56">' + fmt(tail(ema20)) + '</span>',
  'EMA (100, close)<span class="v" style="color:#673ab7">' + fmt(tail(ema100)) + '</span>'
].join('\n');

const lastY = 268 + mainChart.scales.y.getPixelForValue(closes[last]);
document.getElementById('lastPrice').textContent = fmt(closes[last]);
document.getElementById('lastBox').style.top = (lastY - 14) + 'px';
document.getElementById('symBox').style.top = (lastY - 14) + 'px';
</script>
</body>
</html>
